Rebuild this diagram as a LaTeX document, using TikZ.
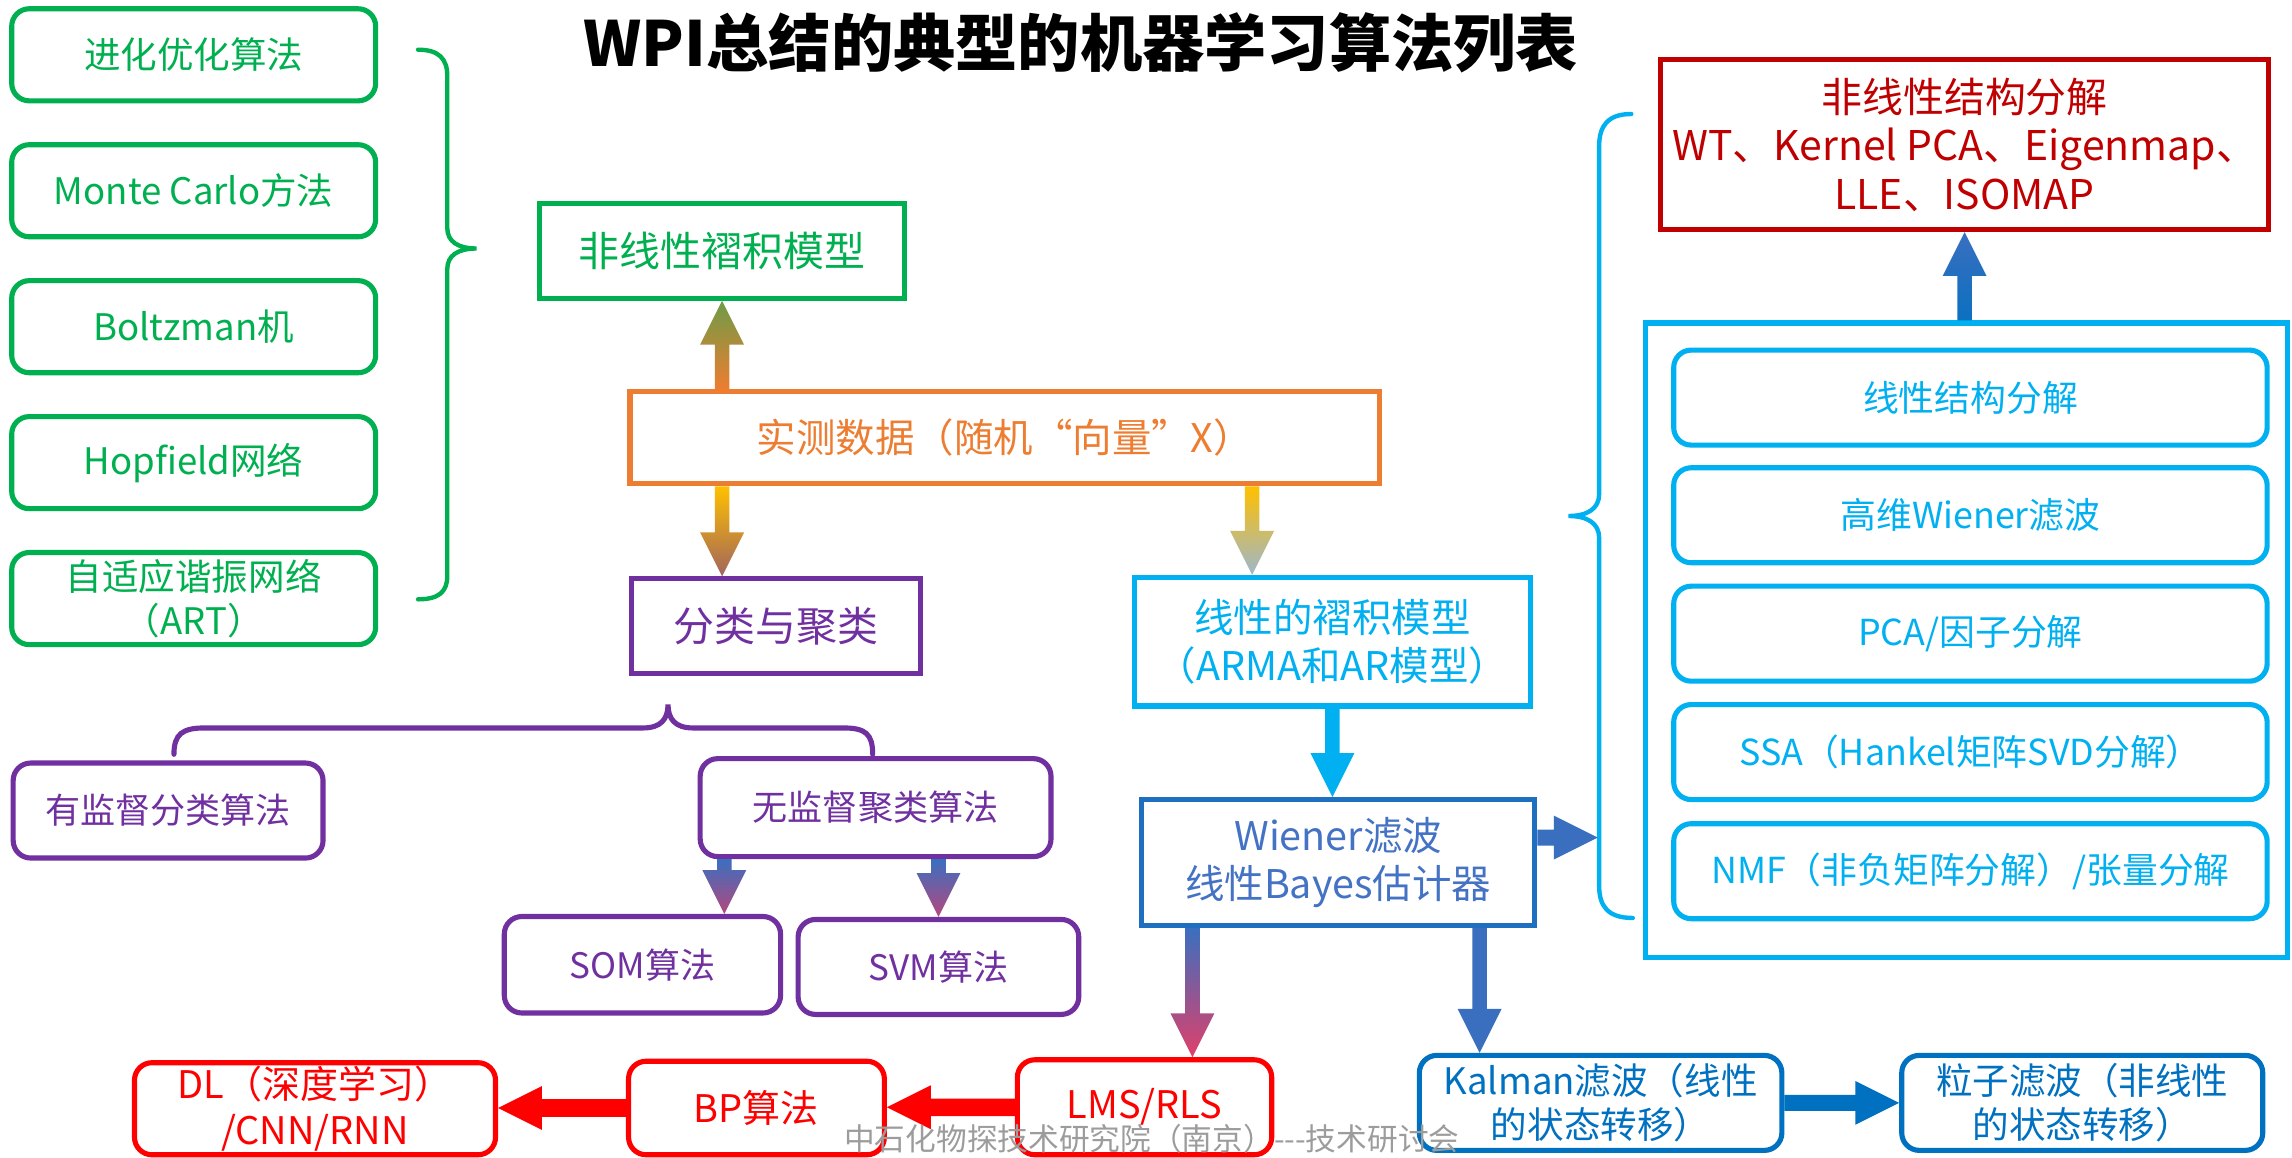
\documentclass[tikz,border=0pt]{standalone}
\usepackage{fontspec}
\setmainfont{Noto Sans CJK SC}
\usetikzlibrary{calc}
\definecolor{cgreen}{HTML}{00B050}
\definecolor{cgreenarr}{HTML}{6E9C46}
\definecolor{corange}{HTML}{ED7D31}
\definecolor{cyellow}{HTML}{FFC000}
\definecolor{cpurple}{HTML}{7030A0}
\definecolor{cbrown}{HTML}{A0645E}
\definecolor{cgrayblue}{HTML}{9DB7CC}
\definecolor{clblue}{HTML}{00B0F0}
\definecolor{cblue}{HTML}{0070C0}
\definecolor{cmblue}{HTML}{3A6FC0}
\definecolor{cwtext}{HTML}{4472C4}
\definecolor{cwborder}{HTML}{1F6FC0}
\definecolor{cpink}{HTML}{B4487E}
\definecolor{cpinkred}{HTML}{E0406A}
\definecolor{cred}{HTML}{FF0000}
\definecolor{cdred}{HTML}{C00000}
\definecolor{cwm}{HTML}{9C9C9C}
\newcommand\barrow[4][5pt]{%
  \coordinate (ba-a) at #2;
  \coordinate (ba-b) at #3;
  \coordinate (ba-h) at ($(ba-b)!30pt!(ba-a)$);
  \path[#4] ($(ba-a)!#1!90:(ba-b)$) -- ($(ba-h)!#1!90:(ba-b)$) -- ($(ba-h)!15pt!90:(ba-b)$) -- (ba-b) -- ($(ba-h)!15pt!-90:(ba-b)$) -- ($(ba-h)!#1!-90:(ba-b)$) -- ($(ba-a)!#1!-90:(ba-b)$) -- cycle;}
\begin{document}
\begin{tikzpicture}[x=1pt,y=-1pt,
  box/.style={draw, line width=3.5pt, inner sep=0pt, align=center, font=\fontsize{24}{30}\selectfont},
  rbox/.style={box, rounded corners=12pt},
  gbox/.style={rbox, draw=cgreen, text=cgreen, minimum width=249pt, minimum height=63pt, font=\fontsize{25}{30}\selectfont},
  pbox/.style={rbox, draw=cpurple, text=cpurple},
  ibox/.style={rbox, draw=clblue, text=clblue, minimum width=406pt, minimum height=65pt, font=\fontsize{24.5}{30}\selectfont},
  redbox/.style={rbox, draw=cred, text=cred, font=\fontsize{26}{31}\selectfont},
  kbox/.style={rbox, draw=cblue, text=cblue, font=\fontsize{25}{30}\selectfont, minimum width=248pt, minimum height=65pt},
  bracestyle/.style={line width=3pt, line cap=round}]
\useasboundingbox (0,0) rectangle (1568,792);
\fill[white] (0,0) rectangle (1568,792);

% title
\node[font=\fontsize{42.6}{50}\selectfont\bfseries] (title) at (739.5,29) {WPI总结的典型的机器学习算法列表};

% left green column
\node[gbox] (g1) at (132.5,37.5) {进化优化算法};
\node[gbox] (g2) at (132.5,130.5) {Monte Carlo方法};
\node[gbox] (g3) at (132.5,223.5) {Boltzman机};
\node[gbox] (g4) at (132.5,316.5) {Hopfield网络};
\node[gbox] (g5) at (132.5,409.5) {自适应谐振网络\\（ART）};

% green brace
\draw[bracestyle, cgreen] (286,34) .. controls (300,34) and (306,40) .. (306,52) -- (306,156) .. controls (306,165) and (313,170) .. (326,170) .. controls (313,170) and (306,175) .. (306,184) -- (306,394) .. controls (306,405) and (300,410) .. (286,410);

% centre
\node[box, draw=cgreen, text=cgreen, minimum width=250pt, minimum height=65pt, font=\fontsize{28}{33}\selectfont] (nl) at (494,171.5) {非线性褶积模型};
\node[box, draw=corange, text=corange, minimum width=513pt, minimum height=63pt, font=\fontsize{27}{32}\selectfont] (data) at (687.5,299.5) {实测数据（随机“向量”X）};
\node[box, draw=cpurple, text=cpurple, minimum width=198pt, minimum height=65pt, font=\fontsize{28}{33}\selectfont] (cls) at (531,428.5) {分类与聚类};

% purple brace
\draw[bracestyle, cpurple, line width=3.5pt] (119,516) .. controls (119,502) and (125,498) .. (140,498) -- (440,498) .. controls (452,498) and (457,492) .. (457,482) .. controls (457,492) and (462,498) .. (474,498) -- (577,498) .. controls (592,498) and (597,502) .. (597,516);

\node[pbox, minimum width=212pt, minimum height=65pt] (sup) at (115,554.5) {有监督分类算法};
\node[pbox, minimum width=240pt, minimum height=67pt] (unsup) at (599,552.5) {无监督聚类算法};
\node[pbox, minimum width=189pt, minimum height=66pt] (som) at (439.5,660) {SOM算法};
\node[pbox, minimum width=192pt, minimum height=65pt] (svm) at (642,661.5) {SVM算法};

% red row
\node[redbox, minimum width=247pt, minimum height=63pt] (dl) at (215.5,758.5) {DL（深度学习）\\/CNN/RNN};
\node[redbox, minimum width=175pt, minimum height=64pt] (bp) at (517.5,758) {BP算法};
\node[redbox, minimum width=174pt, minimum height=65pt] (lms) at (783,757.5) {LMS/RLS};

% linear chain
\node[box, draw=clblue, text=clblue, minimum width=271pt, minimum height=88pt, font=\fontsize{27}{33}\selectfont] (lin) at (911.5,439) {线性的褶积模型\\（ARMA和AR模型）};
\node[box, draw=cwborder, text=cwtext, minimum width=269pt, minimum height=86pt, font=\fontsize{27}{33}\selectfont] (wiener) at (915.5,590) {Wiener滤波\\线性Bayes估计器};
\node[kbox] (kal) at (1095,754.5) {Kalman滤波（线性\\的状态转移）};
\node[kbox, minimum width=247pt] (pf) at (1424.5,754.5) {粒子滤波（非线性\\的状态转移）};

% right side
\node[box, draw=clblue, minimum width=439pt, minimum height=434pt] (cont) at (1345.5,438) {};
\node[ibox] (i1) at (1348,272) {线性结构分解};
\node[ibox] (i2) at (1348,352.5) {高维Wiener滤波};
\node[ibox] (i3) at (1348,433.5) {PCA/因子分解};
\node[ibox] (i4) at (1348,514.5) {SSA（Hankel矩阵SVD分解）};
\node[ibox] (i5) at (1348,596) {NMF（非负矩阵分解）/张量分解};
\node[box, draw=cdred, text=cdred, minimum width=416pt, minimum height=116pt, font=\fontsize{28}{33}\selectfont] (nls) at (1344,99) {非线性结构分解\\WT、Kernel PCA、Eigenmap、\\LLE、ISOMAP};

% blue brace
\draw[bracestyle, clblue] (1116,78) .. controls (1100,78) and (1094,86) .. (1094,100) -- (1094,338) .. controls (1094,348) and (1086,353) .. (1073,353) .. controls (1086,353) and (1094,358) .. (1094,368) -- (1094,606) .. controls (1094,620) and (1100,628) .. (1117,628);
\coordinate (bracex) at (1093,353);

% arrows
\barrow{(data.north -| nl.south)}{(nl.south)}{shade, top color=cgreenarr, bottom color=corange}
\barrow{(data.south -| nl.south)}{(cls.north -| nl.south)}{shade, top color=cyellow, bottom color=cbrown}
\coordinate (xr) at ($(lin.north west)!0.3!(lin.north east)$);
\barrow{(data.south -| xr)}{(xr)}{shade, top color=cyellow, bottom color=cgrayblue}
\coordinate (xsom) at ($(unsup.south west)!0.075!(unsup.south east)$);
\barrow{(xsom)}{(som.north -| xsom)}{shade, top color=cmblue, bottom color=cpink}
\barrow{(unsup.south -| svm.north)}{(svm.north)}{shade, top color=cmblue, bottom color=cpink}
\barrow{(lin.south)}{(wiener.north -| lin.south)}{fill=clblue}
\coordinate (wr) at ($(wiener.north east)!0.31!(wiener.south east)$);
\barrow[5.5pt]{(wr)}{(wr -| bracex)}{fill=cmblue}
\coordinate (wl) at ($(wiener.south west)!0.134!(wiener.south east)$);
\barrow{(wl)}{(lms.north -| wl)}{shade, top color=cmblue, bottom color=cpinkred}
\coordinate (wk) at ($(wiener.south west)!0.855!(wiener.south east)$);
\barrow{(wk)}{(kal.north -| wk)}{fill=cmblue}
\barrow[5.5pt]{(kal.east)}{(pf.west)}{fill=cblue}
\barrow[6pt]{(lms.west)}{(bp.east |- lms.west)}{fill=cred}
\barrow[6pt]{(bp.west)}{(dl.east |- bp.west)}{fill=cred}
\barrow{(cont.north -| nls.south)}{(nls.south)}{shade, top color=cmblue, bottom color=cblue!80!cmblue}

% watermark
\node[text=cwm, font=\fontsize{21}{25}\selectfont] (wm) at (788,779) {中石化物探技术研究院（南京）-{}-{}-技术研讨会};
\end{tikzpicture}
\end{document}
